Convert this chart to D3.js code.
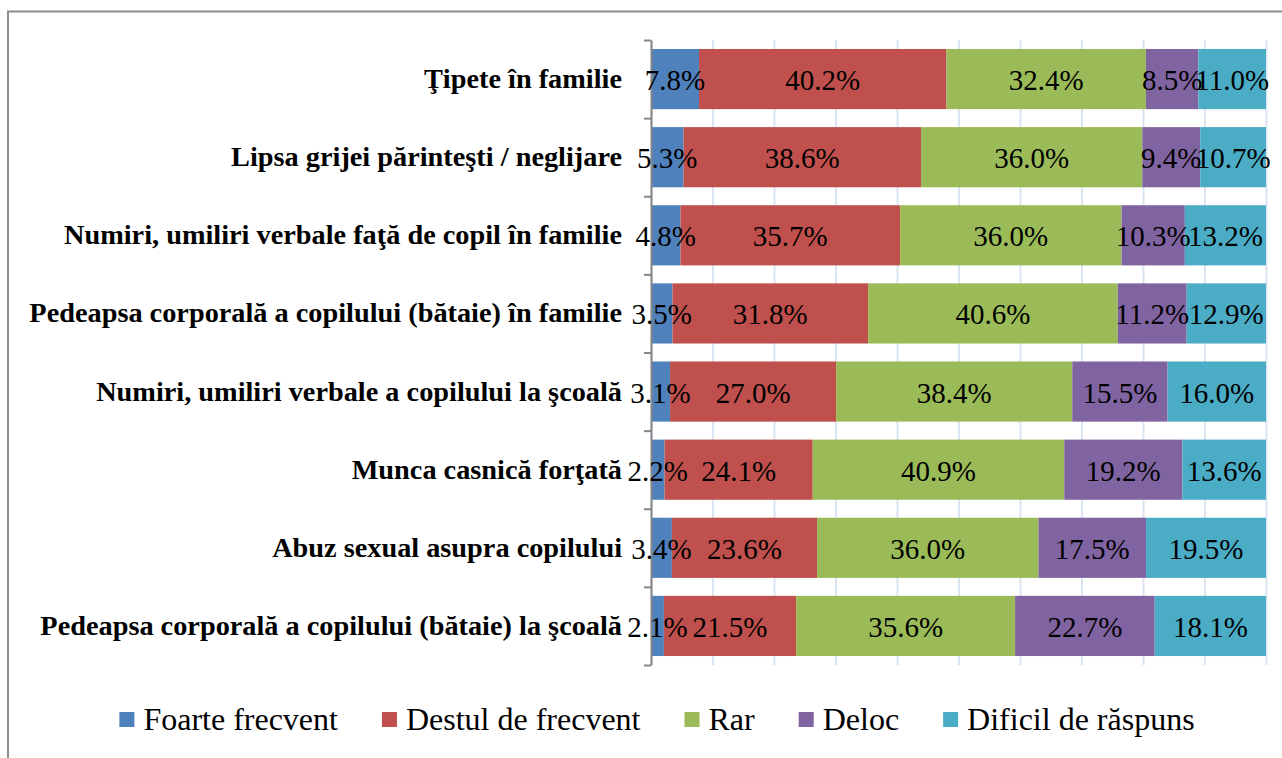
<!DOCTYPE html>
<html>
<head>
<meta charset="UTF-8">
<script src="https://cdn.jsdelivr.net/npm/d3@7"></script>
</head>
<body style="margin:0">
<svg id="mainsvg" width="1282" height="758"></svg>
<script>
const categories = [
  "Ţipete în familie",
  "Lipsa grijei părinteşti / neglijare",
  "Numiri, umiliri verbale faţă de copil în familie",
  "Pedeapsa corporală a copilului (bătaie) în familie",
  "Numiri, umiliri verbale a copilului la şcoală",
  "Munca casnică forţată",
  "Abuz sexual asupra copilului",
  "Pedeapsa corporală a copilului (bătaie) la şcoală"
];
const seriesNames = ["Foarte frecvent", "Destul de frecvent", "Rar", "Deloc", "Dificil de răspuns"];
const foarteFrecvent  = [7.8, 5.3, 4.8, 3.5, 3.1, 2.2, 3.4, 2.1];
const destulFrecvent  = [40.2, 38.6, 35.7, 31.8, 27.0, 24.1, 23.6, 21.5];
const rar             = [32.4, 36.0, 36.0, 40.6, 38.4, 40.9, 36.0, 35.6];
const deloc           = [8.5, 9.4, 10.3, 11.2, 15.5, 19.2, 17.5, 22.7];
const dificil         = [11.0, 10.7, 13.2, 12.9, 16.0, 13.6, 19.5, 18.1];
const colors = ["#4F81BD", "#C0504D", "#9BBB59", "#8064A2", "#4BACC6"];

const FONT = "Liberation Serif";
const seriesValues = [foarteFrecvent, destulFrecvent, rar, deloc, dificil];
const rows = categories.map((c, i) => {
  const r = {cat: c};
  seriesNames.forEach((s, j) => r[s] = seriesValues[j][i]);
  return r;
});

const svg = d3.select("#mainsvg");
const plot = {left: 651, right: 1266, top: 40, bottom: 665};

// outer frame (runs past the right and bottom edges)
svg.append("rect")
  .attr("x", 8).attr("y", 11.5)
  .attr("width", 1400).attr("height", 900)
  .attr("fill", "none").attr("stroke", "#8c8c8c").attr("stroke-width", 2);

const xScale = d3.scaleLinear().domain([0, 1]).range([plot.left, plot.right]);
const yScale = d3.scaleBand().domain(categories)
  .range([plot.top, plot.bottom]).paddingInner(0.23).paddingOuter(0.115);

// vertical gridlines
svg.append("g")
  .attr("transform", `translate(0,${plot.bottom})`)
  .call(d3.axisBottom(xScale).tickValues(d3.range(0, 1.0001, 0.1))
    .tickSize(-(plot.bottom - plot.top)).tickFormat(""))
  .call(g => g.select(".domain").remove())
  .call(g => g.selectAll(".tick line").attr("stroke", "#dbe4f1").attr("stroke-width", 2));

const stack = d3.stack().keys(seriesNames).offset(d3.stackOffsetExpand);
const layers = stack(rows);

const gl = svg.append("g").selectAll("g").data(layers).join("g")
  .attr("fill", (d, i) => colors[i]);
gl.selectAll("rect").data(d => d).join("rect")
  .attr("x", d => xScale(d[0]))
  .attr("width", d => xScale(d[1]) - xScale(d[0]))
  .attr("y", d => yScale(d.data.cat))
  .attr("height", yScale.bandwidth());

// category axis with boundary ticks
const yIdx = d3.scaleLinear().domain([0, categories.length]).range([plot.top, plot.bottom]);
svg.append("g")
  .attr("transform", `translate(${plot.left},0)`)
  .call(d3.axisLeft(yIdx).ticks(categories.length).tickFormat("").tickSize(7).tickSizeOuter(0))
  .call(g => g.selectAll("path, line").attr("stroke", "#868686").attr("stroke-width", 2));

// value labels
layers.forEach((layer, j) => {
  svg.append("g").selectAll("text").data(layer).join("text")
    .attr("x", d => (xScale(d[0]) + xScale(d[1])) / 2)
    .attr("y", d => yScale(d.data.cat) + yScale.bandwidth() / 2 + 11)
    .attr("text-anchor", "middle")
    .attr("font-family", FONT)
    .attr("font-size", 29)
    .attr("fill", "#000")
    .text(d => d.data[layer.key].toFixed(1) + "%");
});

// category labels
svg.append("g").selectAll("text").data(categories).join("text")
  .attr("x", 622)
  .attr("y", d => yScale(d) + yScale.bandwidth() / 2 + 9)
  .attr("text-anchor", "end")
  .attr("font-family", FONT)
  .attr("font-size", 28.3)
  .attr("font-weight", "bold")
  .text(d => d);

// legend
const legend = svg.append("g");
const items = legend.selectAll("g").data(seriesNames).join("g");
items.append("rect").attr("width", 15).attr("height", 15).attr("y", -8)
  .attr("fill", (d, i) => colors[i]);
items.append("text").attr("x", 24).attr("y", 10)
  .attr("font-family", FONT)
  .attr("font-size", 32)
  .text(d => d);
let pos = 0;
items.each(function () {
  const w = d3.select(this).select("text").node().getComputedTextLength();
  d3.select(this).attr("transform", `translate(${pos},0)`);
  pos += 24 + w + 44;
});
const total = pos - 44;
legend.attr("transform", `translate(${657 - total / 2},720)`);
</script>
</body>
</html>
